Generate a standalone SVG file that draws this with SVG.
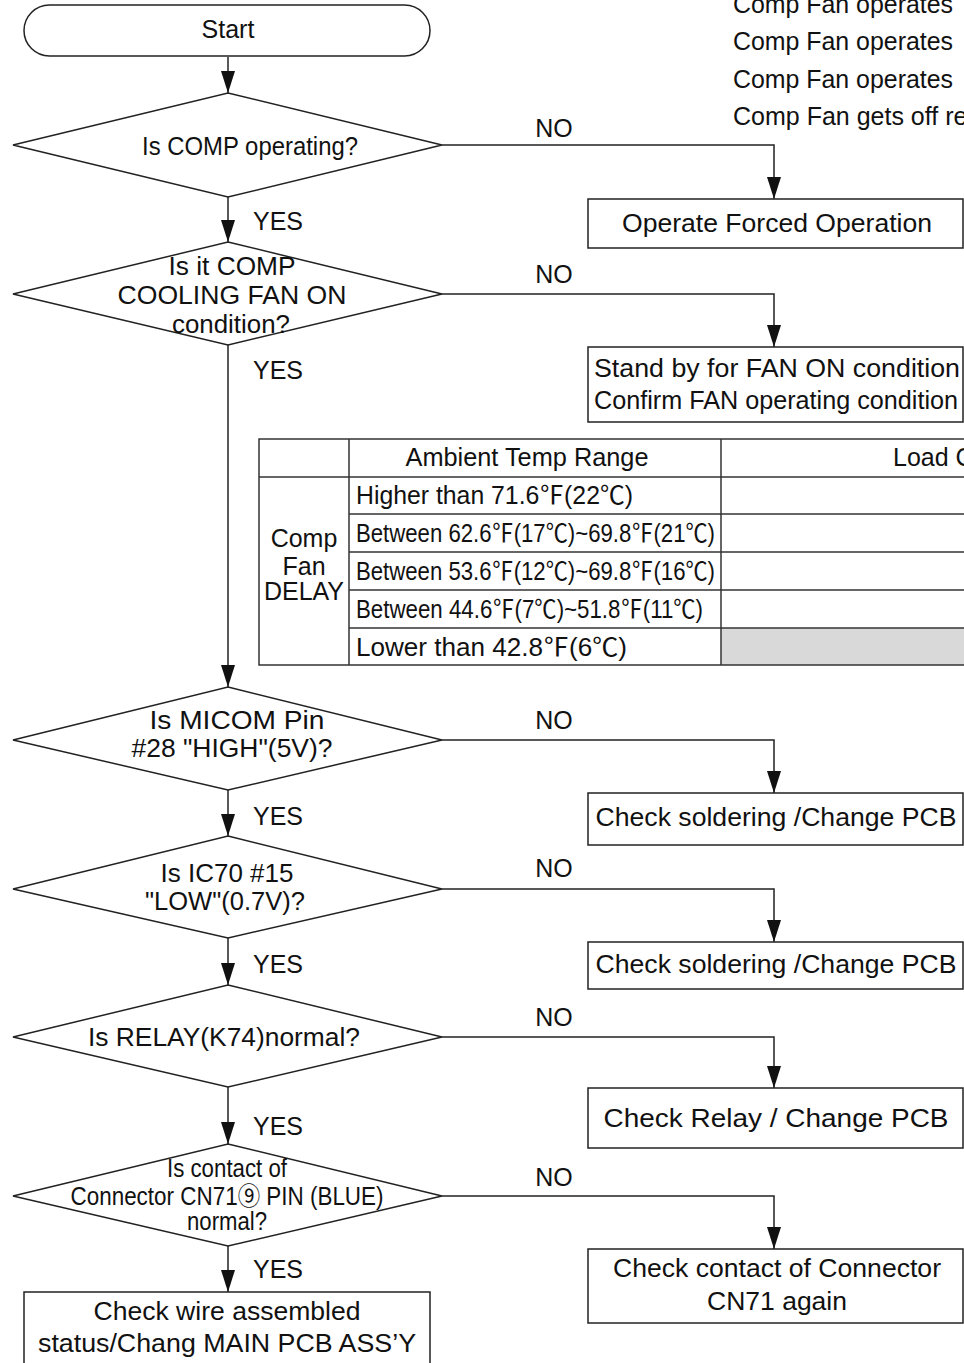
<svg xmlns="http://www.w3.org/2000/svg" width="964" height="1363" viewBox="0 0 964 1363">
<defs>
<marker id="arr" viewBox="0 0 22 14" refX="22" refY="7" markerWidth="22" markerHeight="14" markerUnits="userSpaceOnUse" orient="auto">
<path d="M0,0 L22,7 L0,14 z" fill="#111"/>
</marker>
<style>
text{font-family:"Liberation Sans",Arial,"Noto Sans CJK JP",sans-serif;font-size:25px;fill:#111}
.c{text-anchor:middle}
.shape{fill:#fff;stroke:#222;stroke-width:1.5}
.ln{fill:none;stroke:#222;stroke-width:1.5}
.arr{fill:none;stroke:#222;stroke-width:1.5;marker-end:url(#arr)}
.tb{fill:none;stroke:#333;stroke-width:1.5}
</style>
</defs>
<rect width="964" height="1363" fill="#fff"/>

<g id="note">
<text x="733" y="13" textLength="220" lengthAdjust="spacingAndGlyphs">Comp Fan operates</text>
<text x="733" y="50" textLength="220" lengthAdjust="spacingAndGlyphs">Comp Fan operates</text>
<text x="733" y="88" textLength="220" lengthAdjust="spacingAndGlyphs">Comp Fan operates</text>
<text x="733" y="125">Comp Fan gets off re</text>
</g>

<g id="connectors">
<line class="arr" x1="228" y1="57" x2="228" y2="93"/>
<line class="arr" x1="228" y1="197" x2="228" y2="242"/>
<line class="arr" x1="228" y1="345" x2="228" y2="687"/>
<line class="arr" x1="228" y1="790" x2="228" y2="836"/>
<line class="arr" x1="228" y1="938" x2="228" y2="985"/>
<line class="arr" x1="228" y1="1087" x2="228" y2="1144"/>
<line class="arr" x1="228" y1="1246" x2="228" y2="1292"/>
<polyline class="arr" points="442,145 774,145 774,199"/>
<polyline class="arr" points="442,294 774,294 774,347"/>
<polyline class="arr" points="442,740 774,740 774,793"/>
<polyline class="arr" points="442,889 774,889 774,942"/>
<polyline class="arr" points="442,1037 774,1037 774,1088"/>
<polyline class="arr" points="442,1196 774,1196 774,1249"/>
<text x="554" y="137" class="c">NO</text>
<text x="554" y="283" class="c">NO</text>
<text x="554" y="729" class="c">NO</text>
<text x="554" y="877" class="c">NO</text>
<text x="554" y="1026" class="c">NO</text>
<text x="554" y="1186" class="c">NO</text>
<text x="253" y="230">YES</text>
<text x="253" y="379">YES</text>
<text x="253" y="825">YES</text>
<text x="253" y="973">YES</text>
<text x="253" y="1135">YES</text>
<text x="253" y="1278">YES</text>
</g>

<g id="start">
<rect class="shape" x="24" y="5" width="406" height="51" rx="25.5"/>
<text x="228" y="38" class="c">Start</text>
</g>

<g id="d1">
<polygon class="shape" points="228,93 442,145 228,197 13,145"/>
<text x="250" y="155" class="c" font-size="27" textLength="216" lengthAdjust="spacingAndGlyphs">Is COMP operating?</text>
</g>

<g id="forced">
<rect class="shape" x="588" y="199" width="375" height="49"/>
<text x="777" y="232" class="c" textLength="310" lengthAdjust="spacingAndGlyphs">Operate Forced Operation</text>
</g>

<g id="d2">
<polygon class="shape" points="228,242 442,294 228,345 13,294"/>
<text x="232" y="275" class="c" textLength="127" lengthAdjust="spacingAndGlyphs">Is it COMP</text>
<text x="232" y="304" class="c" textLength="229" lengthAdjust="spacingAndGlyphs">COOLING FAN ON</text>
<text x="231" y="333" class="c" textLength="118" lengthAdjust="spacingAndGlyphs">condition?</text>
</g>

<g id="standby">
<rect class="shape" x="588" y="347" width="375" height="75"/>
<text x="594" y="377" textLength="366" lengthAdjust="spacingAndGlyphs">Stand by for FAN ON condition</text>
<text x="594" y="409" textLength="364" lengthAdjust="spacingAndGlyphs">Confirm FAN operating condition</text>
</g>

<g id="table">
<rect x="721" y="628" width="243" height="37" fill="#d9d9d9"/>
<polyline class="tb" points="964,439 259,439 259,665 964,665"/>
<line class="tb" x1="349" y1="439" x2="349" y2="665"/>
<line class="tb" x1="721" y1="439" x2="721" y2="665"/>
<line class="tb" x1="259" y1="477" x2="964" y2="477"/>
<line class="tb" x1="349" y1="514" x2="964" y2="514"/>
<line class="tb" x1="349" y1="552" x2="964" y2="552"/>
<line class="tb" x1="349" y1="590" x2="964" y2="590"/>
<line class="tb" x1="349" y1="628" x2="964" y2="628"/>
<text x="527" y="466" class="c" textLength="243" lengthAdjust="spacingAndGlyphs">Ambient Temp Range</text>
<text x="893" y="466">Load C</text>
<text x="304" y="547" class="c">Comp</text>
<text x="304" y="575" class="c">Fan</text>
<text x="304" y="600" class="c">DELAY</text>
<text x="356" y="504" textLength="277" lengthAdjust="spacingAndGlyphs">Higher than 71.6℉(22℃)</text>
<text x="356" y="542" textLength="359" lengthAdjust="spacingAndGlyphs">Between 62.6℉(17℃)~69.8℉(21℃)</text>
<text x="356" y="580" textLength="359" lengthAdjust="spacingAndGlyphs">Between 53.6℉(12℃)~69.8℉(16℃)</text>
<text x="356" y="618" textLength="347" lengthAdjust="spacingAndGlyphs">Between 44.6℉(7℃)~51.8℉(11℃)</text>
<text x="356" y="656" textLength="271" lengthAdjust="spacingAndGlyphs">Lower than 42.8℉(6℃)</text>
</g>

<g id="d3">
<polygon class="shape" points="228,687 442,740 228,790 13,740"/>
<text x="237" y="729" class="c" textLength="175" lengthAdjust="spacingAndGlyphs">Is MICOM Pin</text>
<text x="232" y="757" class="c" textLength="201" lengthAdjust="spacingAndGlyphs">#28 "HIGH"(5V)?</text>
</g>

<g id="solder1">
<rect class="shape" x="588" y="793" width="375" height="52"/>
<text x="776" y="826" class="c" textLength="361" lengthAdjust="spacingAndGlyphs">Check soldering /Change PCB</text>
</g>

<g id="d4">
<polygon class="shape" points="228,836 442,889 228,938 13,889"/>
<text x="227" y="882" class="c" textLength="133" lengthAdjust="spacingAndGlyphs">Is IC70 #15</text>
<text x="225" y="910" class="c" textLength="160" lengthAdjust="spacingAndGlyphs">"LOW"(0.7V)?</text>
</g>

<g id="solder2">
<rect class="shape" x="588" y="942" width="375" height="47"/>
<text x="776" y="973" class="c" textLength="361" lengthAdjust="spacingAndGlyphs">Check soldering /Change PCB</text>
</g>

<g id="d5">
<polygon class="shape" points="228,985 442,1037 228,1087 13,1037"/>
<text x="224" y="1046" class="c" textLength="272" lengthAdjust="spacingAndGlyphs">Is RELAY(K74)normal?</text>
</g>

<g id="relay">
<rect class="shape" x="588" y="1088" width="375" height="60"/>
<text x="776" y="1127" class="c" textLength="345" lengthAdjust="spacingAndGlyphs">Check Relay / Change PCB</text>
</g>

<g id="d6">
<polygon class="shape" points="228,1144 442,1196 228,1246 13,1196"/>
<text x="227" y="1177" class="c" font-size="23" textLength="120" lengthAdjust="spacingAndGlyphs">Is contact of</text>
<text x="227" y="1205" class="c" font-size="23" textLength="313" lengthAdjust="spacingAndGlyphs">Connector CN71⑨ PIN (BLUE)</text>
<text x="227" y="1230" class="c" font-size="23" textLength="80" lengthAdjust="spacingAndGlyphs">normal?</text>
</g>

<g id="cn71">
<rect class="shape" x="588" y="1249" width="375" height="74"/>
<text x="777" y="1277" class="c" textLength="328" lengthAdjust="spacingAndGlyphs">Check contact of Connector</text>
<text x="777" y="1310" class="c" textLength="140" lengthAdjust="spacingAndGlyphs">CN71 again</text>
</g>

<g id="final">
<rect class="shape" x="24" y="1292" width="406" height="90"/>
<text x="227" y="1320" class="c" textLength="267" lengthAdjust="spacingAndGlyphs">Check wire assembled</text>
<text x="227" y="1352" class="c" textLength="378" lengthAdjust="spacingAndGlyphs">status/Chang MAIN PCB ASS’Y</text>
</g>
</svg>
